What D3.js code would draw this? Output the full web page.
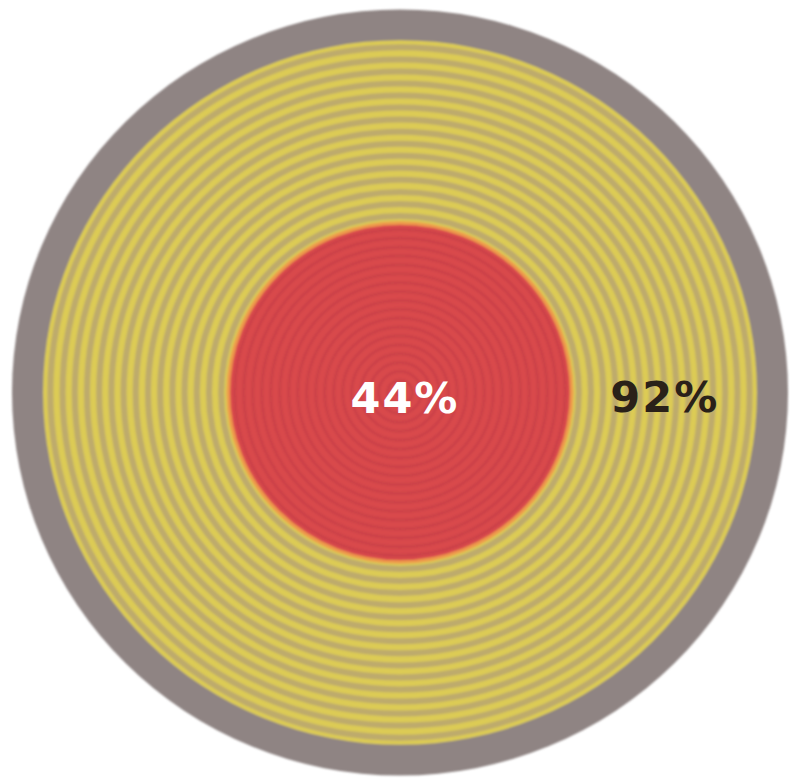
<!DOCTYPE html>
<html>
<head>
<meta charset="utf-8">
<script src="https://cdn.jsdelivr.net/npm/d3@7"></script>
<style>
  html, body { margin: 0; padding: 0; background: #ffffff; }
  svg { display: block; }
</style>
</head>
<body>
<svg id="chart" width="790" height="779"></svg>
<script>
// ---- data ----
const categories = ["Total", "Outer group", "Inner group"];
const values = [100, 92, 44];
const labels = ["", "92%", "44%"];

// ---- layout ----
const W = 790, H = 779;
const cx = 400, cy = 392.5;
const RX = 388, RY = 383;

const rx = d3.scaleLinear().domain([0, 100]).range([0, RX]);
const ry = d3.scaleLinear().domain([0, 100]).range([0, RY]);

const fills = ["#8f8483", "#dccb55", "#d9494c"];
const ringColors = [null, "#b6a272", "#c03b43"];
const ringSteps = [null, 12.2, 9];
const ringWidths = [null, 6, 3.2];

const svg = d3.select("#chart");
const defs = svg.append("defs");
defs.append("filter").attr("id", "soft")
  .append("feGaussianBlur").attr("stdDeviation", 1);

const g = svg.append("g").attr("filter", "url(#soft)");

values.forEach((v, i) => {
  g.append("ellipse")
    .attr("cx", cx).attr("cy", cy)
    .attr("rx", rx(v)).attr("ry", ry(v))
    .attr("fill", fills[i]);

  if (ringColors[i]) {
    const inner = i + 1 < values.length ? rx(values[i + 1]) : 0;
    const outer = rx(v);
    const radii = d3.range(outer - ringSteps[i] * 0.6, inner + 2, -ringSteps[i]);
    g.selectAll(null).data(radii).enter().append("ellipse")
      .attr("cx", cx).attr("cy", cy)
      .attr("rx", d => d)
      .attr("ry", d => d * RY / RX)
      .attr("fill", "none")
      .attr("stroke", ringColors[i])
      .attr("stroke-width", ringWidths[i])
      .attr("stroke-opacity", i === 1 ? 0.8 : 0.5);
  }
});

// orange border around the inner disc
g.append("ellipse")
  .attr("cx", cx).attr("cy", cy)
  .attr("rx", rx(values[2]) + 1).attr("ry", ry(values[2]) + 1)
  .attr("fill", "none")
  .attr("stroke", "#ee9a4c")
  .attr("stroke-width", 3.5);

// labels
const txt = svg.append("g")
  .attr("font-family", "DejaVu Sans, sans-serif")
  .attr("font-weight", "bold")
  .attr("font-size", 43)
  .attr("text-anchor", "middle");

txt.append("text")
  .attr("x", cx + 5).attr("y", cy + 20)
  .attr("fill", "#ffffff")
  .attr("letter-spacing", 2)
  .text(labels[2]);

txt.append("text")
  .attr("x", cx + (rx(values[1]) + rx(values[2])) / 2 + 1).attr("y", cy + 19)
  .attr("fill", "#2a2119")
  .attr("letter-spacing", 2)
  .text(labels[1]);
</script>
</body>
</html>
